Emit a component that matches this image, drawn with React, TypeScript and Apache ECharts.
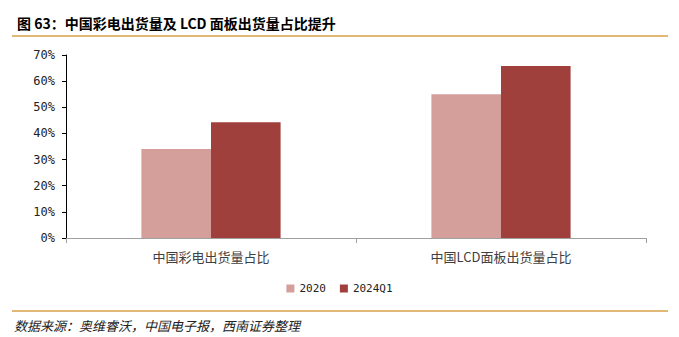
import React, { useEffect, useRef } from "react";
import * as echarts from "echarts";

const categories = ["中国彩电出货量占比", "中国LCD面板出货量占比"];
const series2020 = [34.0, 55.0];
const series2024Q1 = [44.3, 65.8];
const seriesNames = ["2020", "2024Q1"];
const title = "图 63：中国彩电出货量及 LCD 面板出货量占比提升";
const source = "数据来源：奥维睿沃，中国电子报，西南证券整理";

export default function App() {
  const ref = useRef<HTMLDivElement>(null);
  useEffect(() => {
    const chart = echarts.init(ref.current!, null, { renderer: "svg" });
    chart.setOption({
      animation: false,
      backgroundColor: "#ffffff",
      title: {
        text: title,
        left: 12,
        top: 11,
        textStyle: { fontSize: 14, fontWeight: "bold", color: "#000", fontFamily: "Noto Sans CJK SC" },
      },
      graphic: [
        { type: "line", shape: { x1: 12, y1: 36, x2: 668, y2: 36 }, style: { stroke: "#D9A04A", lineWidth: 1.5 } },
        { type: "line", shape: { x1: 12, y1: 311, x2: 668, y2: 311 }, style: { stroke: "#D9A04A", lineWidth: 1.5 } },
        {
          type: "text",
          left: 14,
          top: 319,
          style: { text: source, fontSize: 13, fontStyle: "italic", fill: "#222", fontFamily: "Noto Sans CJK SC" },
        },
      ],
      legend: {
        bottom: 38,
        left: "center",
        itemWidth: 8,
        itemHeight: 8,
        itemGap: 14,
        icon: "rect",
        textStyle: { fontSize: 11, color: "#222", fontFamily: "DejaVu Sans Mono" },
        data: seriesNames,
      },
      grid: { left: 66, right: 33, top: 55, bottom: 99, containLabel: false },
      xAxis: {
        type: "category",
        data: categories,
        axisLine: { lineStyle: { color: "#A0A0A0" } },
        axisTick: { show: true, length: 5, lineStyle: { color: "#A0A0A0" } },
        axisLabel: { fontSize: 13, color: "#404040", margin: 12, fontFamily: "Noto Sans CJK SC" },
      },
      yAxis: {
        type: "value",
        min: 0,
        max: 70,
        interval: 10,
        axisLine: { show: true, lineStyle: { color: "#000" } },
        axisTick: { show: true, length: 4, lineStyle: { color: "#000" } },
        splitLine: { show: false },
        axisLabel: { formatter: "{value}%", fontSize: 12, color: "#222", margin: 11, fontFamily: "DejaVu Sans Mono" },
      },
      series: [
        {
          name: seriesNames[0],
          type: "bar",
          data: series2020,
          itemStyle: { color: "#D49E9B" },
          barGap: "0%",
          barCategoryGap: "52%",
        },
        {
          name: seriesNames[1],
          type: "bar",
          data: series2024Q1,
          itemStyle: { color: "#A0403D" },
          barGap: "0%",
          barCategoryGap: "52%",
        },
      ],
    });
    return () => chart.dispose();
  }, []);
  return <div ref={ref} style={{ width: 679, height: 337, position: "absolute", left: 0, top: 0 }} />;
}
